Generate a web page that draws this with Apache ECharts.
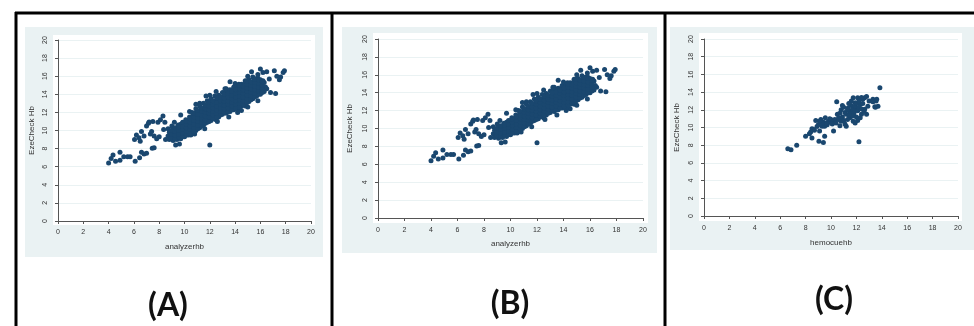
<!DOCTYPE html>
<html>

<head>
    <meta charset="utf-8">
    <script type="text/javascript" src="https://cdn.jsdelivr.net/npm/echarts@6.0.0/dist/echarts.min.js"></script>
    <title>EzeCheck Hb scatter</title>
    <style>
        html, body { margin: 0; padding: 0; background: #fff; }
    </style>
</head>

<body>
    <div id="container" style="width:974px;height:326px;"></div>
    <script type="text/javascript">
    // tick labels shared by every axis
    var ticks = [0, 2, 4, 6, 8, 10, 12, 14, 16, 18, 20];

    // analyzerhb vs EzeCheck Hb: scattered points away from the dense band
    var outliersA = [
        [4.0, 6.4], [4.2, 6.9], [4.35, 7.3], [4.55, 6.6], [4.9, 6.7], [4.9, 7.6],
        [5.2, 7.1], [5.5, 7.1], [5.7, 7.1], [6.1, 6.6], [6.45, 7.0], [6.6, 7.6],
        [6.8, 7.4], [7.0, 7.5], [7.45, 8.05], [7.6, 8.1], [6.05, 9.0], [6.2, 9.5],
        [6.4, 9.2], [6.5, 8.8], [6.6, 9.9], [6.8, 9.4], [7.0, 10.5], [7.15, 10.8],
        [7.3, 9.6], [7.4, 9.9], [7.6, 9.4], [7.2, 10.95], [7.5, 11.0], [7.8, 9.1],
        [8.0, 9.3], [7.9, 10.9], [8.1, 11.2], [8.3, 11.6], [8.45, 10.9], [8.35, 10.1],
        [8.5, 9.0], [8.7, 9.4], [9.3, 8.4], [9.6, 8.5], [12.0, 8.4], [9.7, 11.7],
        [10.5, 9.5], [9.8, 9.8], [13.6, 15.4], [15.3, 16.5], [16.0, 16.8], [16.2, 16.4],
        [16.5, 16.5], [17.1, 16.6], [17.3, 16.0], [17.6, 15.9], [17.8, 16.4], [17.9, 16.6],
        [17.5, 15.6], [17.2, 14.1], [16.8, 14.2], [16.5, 14.6], [16.2, 15.5], [16.7, 15.7],
        [15.6, 15.7], [14.8, 15.5], [14.5, 13.4], [14.5, 12.2], [14.8, 12.7], [12.5, 11.2],
        [12.0, 11.7], [11.5, 11.9], [11.2, 10.8], [10.4, 12.1], [10.9, 12.9], [11.2, 13.0],
        [11.7, 13.8], [12.5, 14.3], [13.3, 14.6], [13.9, 14.8], [8.7, 10.2], [9.0, 10.5],
        [9.2, 10.9], [10.8, 9.6], [11.6, 10.2], [12.6, 11.0], [13.5, 11.5], [14.2, 12.0],
        [15.0, 12.6], [15.8, 13.3], [12.0, 13.9], [13.2, 14.6], [14.0, 15.2], [15.0, 16.0],
        [15.8, 16.2]
    ];

    // analyzerhb vs EzeCheck Hb: the dense band
    var coreA = [
        [8.8, 9.0], [8.9, 9.4], [8.8, 9.8], [9.1, 8.9], [9.0, 9.3], [9.2, 9.7], [9.1, 10.1],
        [9.4, 9.0], [9.3, 9.4], [9.5, 9.8], [9.4, 10.2], [9.5, 10.6],
        [9.7, 9.1], [9.8, 9.5], [9.7, 9.9], [9.8, 10.3], [9.7, 10.7],
        [10.0, 9.3], [10.1, 9.7], [10.0, 10.1], [10.1, 10.5], [10.0, 10.9], [10.1, 11.2],
        [10.3, 9.5], [10.4, 9.9], [10.3, 10.3], [10.4, 10.7], [10.3, 11.1], [10.4, 11.5],
        [10.6, 9.7], [10.7, 10.1], [10.6, 10.5], [10.7, 10.9], [10.6, 11.3], [10.7, 11.7], [10.6, 12.0],
        [10.9, 10.0], [11.0, 10.4], [10.9, 10.8], [11.0, 11.2], [10.9, 11.6], [11.0, 12.0], [10.9, 12.4],
        [11.2, 10.3], [11.3, 10.7], [11.2, 11.1], [11.3, 11.5], [11.2, 11.9], [11.3, 12.3], [11.2, 12.7],
        [11.5, 10.6], [11.6, 11.0], [11.5, 11.4], [11.6, 11.8], [11.5, 12.2], [11.6, 12.6], [11.5, 13.0],
        [11.8, 10.9], [11.9, 11.3], [11.8, 11.7], [11.9, 12.1], [11.8, 12.5], [11.9, 12.9], [11.8, 13.3],
        [12.1, 11.1], [12.2, 11.5], [12.1, 11.9], [12.2, 12.3], [12.1, 12.7], [12.2, 13.1], [12.1, 13.5],
        [12.4, 11.3], [12.5, 11.7], [12.4, 12.1], [12.5, 12.5], [12.4, 12.9], [12.5, 13.3], [12.4, 13.8],
        [12.7, 11.5], [12.8, 11.9], [12.7, 12.3], [12.8, 12.7], [12.7, 13.1], [12.8, 13.5], [12.7, 13.9],
        [13.0, 11.8], [13.1, 12.2], [13.0, 12.6], [13.1, 13.0], [13.0, 13.4], [13.1, 13.8], [13.0, 14.2],
        [13.3, 11.9], [13.4, 12.3], [13.3, 12.7], [13.4, 13.1], [13.3, 13.5], [13.4, 13.9], [13.3, 14.3],
        [13.6, 12.1], [13.7, 12.5], [13.6, 12.9], [13.7, 13.3], [13.6, 13.7], [13.7, 14.1], [13.6, 14.5],
        [13.9, 12.3], [14.0, 12.7], [13.9, 13.1], [14.0, 13.5], [13.9, 13.9], [14.0, 14.3], [13.9, 14.7],
        [14.2, 12.4], [14.3, 12.8], [14.2, 13.2], [14.3, 13.6], [14.2, 14.0], [14.3, 14.4], [14.2, 14.8], [14.3, 15.1],
        [14.5, 12.7], [14.6, 13.1], [14.5, 13.5], [14.6, 13.9], [14.5, 14.3], [14.6, 14.7], [14.5, 15.1],
        [14.8, 12.9], [14.9, 13.3], [14.8, 13.7], [14.9, 14.1], [14.8, 14.5], [14.9, 14.9], [14.8, 15.3],
        [15.1, 13.2], [15.2, 13.6], [15.1, 14.0], [15.2, 14.4], [15.1, 14.8], [15.2, 15.2], [15.1, 15.6],
        [15.4, 13.5], [15.5, 13.9], [15.4, 14.3], [15.5, 14.7], [15.4, 15.1], [15.5, 15.5], [15.4, 15.9],
        [15.7, 13.8], [15.8, 14.2], [15.7, 14.6], [15.8, 15.0], [15.7, 15.4], [15.8, 15.8],
        [16.0, 14.0], [16.1, 14.4], [16.0, 14.8], [16.1, 15.2], [16.0, 15.6],
        [16.3, 14.3], [16.4, 14.8], [16.3, 15.3]
    ];

    // more of the dense band, sitting between the points above
    var fillA = [
        [8.95, 9.2], [8.95, 9.6], [8.95, 10.0],
        [9.25, 9.1], [9.25, 9.5], [9.25, 9.9], [9.25, 10.3],
        [9.55, 9.3], [9.55, 9.6], [9.55, 10.0], [9.55, 10.4],
        [9.85, 9.3], [9.85, 9.7], [9.85, 10.1], [9.85, 10.5], [9.85, 10.9],
        [10.15, 9.5], [10.15, 9.9], [10.15, 10.3], [10.15, 10.7], [10.15, 11.0],
        [10.45, 9.7], [10.45, 10.1], [10.45, 10.5], [10.45, 10.9], [10.45, 11.3],
        [10.75, 9.9], [10.75, 10.3], [10.75, 10.7], [10.75, 11.1], [10.75, 11.5], [10.75, 11.9],
        [11.05, 10.2], [11.05, 10.6], [11.05, 11.0], [11.05, 11.4], [11.05, 11.8], [11.05, 12.2],
        [11.35, 10.5], [11.35, 10.9], [11.35, 11.3], [11.35, 11.7], [11.35, 12.1], [11.35, 12.5],
        [11.65, 10.8], [11.65, 11.2], [11.65, 11.6], [11.65, 12.0], [11.65, 12.4], [11.65, 12.8],
        [11.95, 11.0], [11.95, 11.5], [11.95, 11.9], [11.95, 12.3], [11.95, 12.7], [11.95, 13.1],
        [12.25, 11.3], [12.25, 11.7], [12.25, 12.1], [12.25, 12.5], [12.25, 12.9], [12.25, 13.3],
        [12.55, 11.5], [12.55, 11.9], [12.55, 12.3], [12.55, 12.7], [12.55, 13.1], [12.55, 13.6],
        [12.85, 11.7], [12.85, 12.1], [12.85, 12.5], [12.85, 12.9], [12.85, 13.3], [12.85, 13.7],
        [13.15, 12.0], [13.15, 12.4], [13.15, 12.8], [13.15, 13.2], [13.15, 13.6], [13.15, 14.0],
        [13.45, 12.1], [13.45, 12.5], [13.45, 12.9], [13.45, 13.3], [13.45, 13.7], [13.45, 14.1],
        [13.75, 12.3], [13.75, 12.7], [13.75, 13.1], [13.75, 13.5], [13.75, 13.9], [13.75, 14.3],
        [14.05, 12.5], [14.05, 12.9], [14.05, 13.3], [14.05, 13.7], [14.05, 14.1], [14.05, 14.5],
        [14.35, 12.6], [14.35, 13.0], [14.35, 13.4], [14.35, 13.8], [14.35, 14.2], [14.35, 14.6], [14.35, 15.0],
        [14.65, 12.9], [14.65, 13.3], [14.65, 13.7], [14.65, 14.1], [14.65, 14.5], [14.65, 14.9],
        [14.95, 13.1], [14.95, 13.5], [14.95, 13.9], [14.95, 14.3], [14.95, 14.7], [14.95, 15.1], [14.95, 15.5],
        [15.25, 13.4], [15.25, 13.8], [15.25, 14.2], [15.25, 14.6], [15.25, 15.0], [15.25, 15.4],
        [15.55, 13.7], [15.55, 14.1], [15.55, 14.5], [15.55, 14.9], [15.55, 15.3], [15.55, 15.7],
        [15.85, 14.0], [15.85, 14.4], [15.85, 14.8], [15.85, 15.2], [15.85, 15.6],
        [16.15, 14.2], [16.15, 14.6], [16.15, 15.0], [16.15, 15.4]
    ];

    // hemocuehb vs EzeCheck Hb
    var pointsC = [
        [6.6, 7.6], [6.85, 7.5], [7.3, 8.0], [8.0, 9.0], [8.3, 9.3], [8.5, 8.8],
        [8.6, 9.8], [8.5, 9.85], [8.8, 10.8], [9.0, 10.3], [9.1, 9.6], [9.05, 8.45],
        [9.4, 8.3], [9.5, 9.0], [9.2, 10.9], [9.4, 10.6], [9.55, 11.1], [9.8, 10.7],
        [9.3, 10.15], [9.5, 10.15], [10.2, 9.6], [10.2, 10.6], [10.45, 12.9], [10.5, 11.5],
        [10.6, 11.1], [10.8, 10.7], [10.7, 10.2], [10.9, 12.5], [11.1, 11.7], [11.2, 10.15],
        [11.35, 12.2], [11.5, 11.85], [11.75, 13.35], [11.9, 12.8], [12.0, 12.0], [12.1, 13.35],
        [12.3, 12.6], [12.4, 11.5], [12.5, 13.2], [12.65, 12.05], [12.2, 8.4], [12.65, 13.35],
        [13.0, 13.0], [13.3, 13.2], [13.55, 13.0], [13.45, 12.35], [13.7, 12.4], [13.85, 14.5],
        [12.3, 11.1], [11.75, 10.7], [11.5, 11.1], [11.2, 11.5], [12.0, 11.2], [11.6, 12.5],
        [12.8, 11.5], [12.9, 12.4], [10.3, 10.9], [10.4, 10.5], [10.6, 10.9], [10.9, 11.2],
        [11.0, 10.8], [11.1, 10.4], [11.3, 10.9], [11.4, 11.4], [11.6, 11.7], [11.7, 12.1],
        [11.8, 11.6], [11.9, 12.4], [12.0, 12.7], [12.1, 11.9], [12.2, 12.3], [12.2, 13.0],
        [12.4, 12.1], [12.5, 12.7], [12.6, 11.8], [12.1, 10.8], [11.9, 10.5], [11.7, 11.3],
        [10.7, 11.6], [10.8, 12.0], [11.0, 12.3], [9.7, 10.3], [9.9, 10.6], [10.0, 10.9],
        [10.1, 10.4], [9.9, 11.0], [9.6, 10.5], [9.3, 10.5], [9.1, 10.7], [8.9, 10.1],
        [8.7, 9.7], [8.4, 9.5], [12.4, 13.4], [12.8, 13.5], [13.3, 12.9], [13.6, 13.2],
        [13.5, 12.3], [11.3, 12.0], [11.6, 13.0], [11.4, 12.7]
    ];

    var pointsA = outliersA.concat(coreA, fillA);

    var bgColor = '#EAF2F3';
    var dotColor = '#1A476F';
    var textColor = '#333';

    // panel layout: grid of the 0..20 data range, offset of the axis lines, frames
    var panels = [
        { left: 58, top: 40, width: 253, height: 181, xOff: 4, yOff: 5, yGap: 17, xGap: 18,
          xName: 'analyzerhb', data: pointsA, bg: [25, 27, 298, 230], plot: [53, 35, 262, 190],
          label: '(A)', lx: 168, ly: 306 },
        { left: 378, top: 39, width: 265, height: 179, xOff: 5, yOff: 5, yGap: 19, xGap: 17,
          xName: 'analyzerhb', data: pointsA, bg: [342, 27, 315, 226], plot: [373, 33, 275, 190],
          label: '(B)', lx: 510, ly: 304 },
        { left: 704, top: 39, width: 254, height: 177, xOff: 5, yOff: 5, yGap: 18, xGap: 18,
          xName: 'hemocuehb', data: pointsC, bg: [670, 27, 304, 223], plot: [699, 33, 263, 188],
          label: '(C)', lx: 834, ly: 300 }
    ];

    var grids = [], xAxes = [], yAxes = [], series = [], elements = [];

    panels.forEach(function (p, i) {
        grids.push({ left: p.left, top: p.top, width: p.width, height: p.height });

        var axisCommon = {
            type: 'value', min: ticks[0], max: ticks[ticks.length - 1], interval: 2,
            gridIndex: i,
            nameLocation: 'middle',
            nameTextStyle: { color: textColor, fontSize: 8, fontFamily: 'Liberation Sans' },
            axisLine: { show: true, lineStyle: { color: '#555', width: 1 } },
            axisTick: { show: true, length: 3, lineStyle: { color: '#555' } },
            axisLabel: { color: textColor, fontSize: 7, fontFamily: 'Liberation Sans', margin: 4 }
        };

        xAxes.push(Object.assign({}, axisCommon, {
            name: p.xName, nameGap: p.xGap, offset: p.xOff,
            splitLine: { show: false }
        }));

        yAxes.push(Object.assign({}, axisCommon, {
            name: 'EzeCheck Hb', nameGap: p.yGap, offset: p.yOff,
            axisLabel: Object.assign({}, axisCommon.axisLabel, { rotate: 90 }),
            splitLine: { show: true, lineStyle: { color: '#EAF2F3', width: 1 } }
        }));

        series.push({
            type: 'scatter', xAxisIndex: i, yAxisIndex: i,
            data: p.data, symbolSize: 5,
            itemStyle: { color: dotColor, opacity: 1 },
            silent: true
        });

        // graph region and plot region backgrounds
        elements.push({ type: 'rect', z: -20, silent: true,
            shape: { x: p.bg[0], y: p.bg[1], width: p.bg[2], height: p.bg[3] },
            style: { fill: bgColor } });
        elements.push({ type: 'rect', z: -19, silent: true,
            shape: { x: p.plot[0], y: p.plot[1], width: p.plot[2], height: p.plot[3] },
            style: { fill: '#fff' } });

        // panel caption
        elements.push({ type: 'text', z: 10, silent: true, x: p.lx, y: p.ly,
            style: { text: p.label, fill: '#111', font: 'bold 32px Lato',
                     textAlign: 'center', textVerticalAlign: 'middle' } });
    });

    // black frame lines around the panels
    [[15, 13, 974, 13], [16, 12, 16, 326], [332, 12, 332, 326], [665, 12, 665, 326]].forEach(function (l) {
        elements.push({ type: 'line', z: 10, silent: true,
            shape: { x1: l[0], y1: l[1], x2: l[2], y2: l[3] },
            style: { stroke: '#000', lineWidth: 3 } });
    });

    var myChart = echarts.init(document.getElementById('container'));
    myChart.setOption({
        animation: false,
        grid: grids,
        xAxis: xAxes,
        yAxis: yAxes,
        series: series,
        graphic: { elements: elements }
    });
    </script>
</body>

</html>
